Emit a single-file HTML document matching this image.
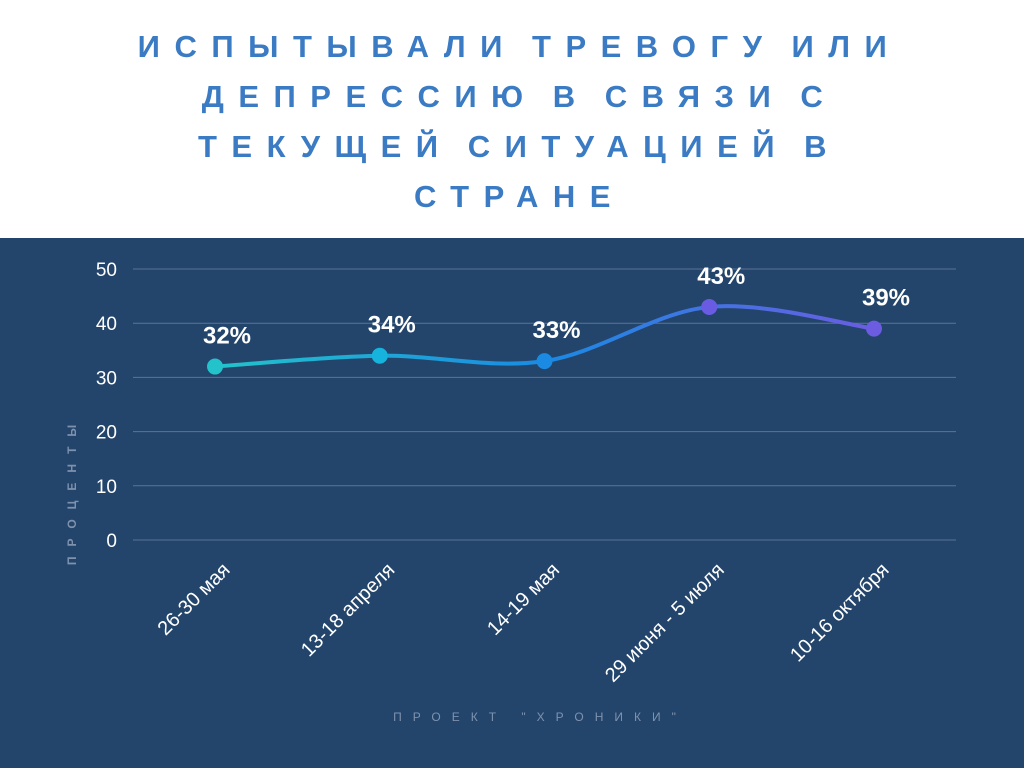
<!DOCTYPE html>
<html><head><meta charset="utf-8"><style>
body{margin:0;width:1024px;height:768px;overflow:hidden;background:#fff;font-family:"Liberation Sans",sans-serif}
#top{position:absolute;left:0;top:0;width:1024px;height:238px;background:#fff}
.tl{position:absolute;left:0;width:1024px;box-sizing:border-box;padding-left:15px;text-align:center;font-weight:bold;font-size:31px;color:#3a7bc4;letter-spacing:14.5px;word-spacing:-8px;line-height:36px}
#panel{position:absolute;left:0;top:238px;width:1024px;height:530px;background:#23456b}
</style></head><body>
<div id="top">
<div class="tl" style="top:29px">ИСПЫТЫВАЛИ ТРЕВОГУ ИЛИ</div>
<div class="tl" style="top:79px">ДЕПРЕССИЮ В СВЯЗИ С</div>
<div class="tl" style="top:129px">ТЕКУЩЕЙ СИТУАЦИЕЙ В</div>
<div class="tl" style="top:179px">СТРАНЕ</div>
</div>
<div id="panel"></div>
<svg id="chart" width="1024" height="768" style="position:absolute;left:0;top:0">
<defs><linearGradient id="lg" x1="215" x2="874" y1="0" y2="0" gradientUnits="userSpaceOnUse">
<stop offset="0" stop-color="#22c3cb"/><stop offset="0.5" stop-color="#1a8ae3"/><stop offset="1" stop-color="#6b5ce2"/></linearGradient></defs>
</svg>
<script>
const categories=["26-30 мая","13-18 апреля","14-19 мая","29 июня - 5 июля","10-16 октября"];
const values=[32,34,33,43,39];
const yTicks=[0,10,20,30,40,50];
const pointColors=["#22c3cb","#16b4dc","#1a8ae3","#6a5ce2","#6b5ce2"];
const svg=document.getElementById('chart');const NS='http://www.w3.org/2000/svg';
const x0=215,dx=164.75,yb=540,yt=269;
const X=i=>x0+i*dx, Y=v=>yb-(v-0)/(50-0)*(yb-yt);
function mk(t,a,txt){const e=document.createElementNS(NS,t);for(const k in a)e.setAttribute(k,a[k]);if(txt!=null)e.textContent=txt;svg.appendChild(e);return e;}
yTicks.forEach(v=>{
 const g=mk('line',{x1:133,x2:956,y1:Y(v),y2:Y(v),stroke:'#5b7496','stroke-width':1});
 
 
 const t=mk('text',{x:117,y:Y(v)+7,'text-anchor':'end',fill:'#fff','font-size':19,'font-family':'Liberation Sans'},v);
 
 
});
const at=mk('text',{x:0,y:0,transform:'translate(76,490) rotate(-90)','text-anchor':'middle',fill:'#7f92ad','font-size':12,'font-weight':'bold','letter-spacing':10,'font-family':'Liberation Sans'},'ПРОЦЕНТЫ');


const P=values.map((v,i)=>[X(i),Y(v)]);
let d='M'+P[0][0]+','+P[0][1];
for(let i=0;i<P.length-1;i++){const p0=P[Math.max(i-1,0)],p1=P[i],p2=P[i+1],p3=P[Math.min(i+2,P.length-1)];
 d+=` C${p1[0]+(p2[0]-p0[0])/6},${p1[1]+(p2[1]-p0[1])/6} ${p2[0]-(p3[0]-p1[0])/6},${p2[1]-(p3[1]-p1[1])/6} ${p2[0]},${p2[1]}`;}
const ln=mk('path',{d:d,fill:'none',stroke:'url(#lg)','stroke-width':4});


values.forEach((v,i)=>{
 const c=mk('circle',{cx:X(i),cy:Y(v),r:8,fill:pointColors[i]});
 
 
 const l=mk('text',{x:X(i)+12,y:Y(v)-23,'text-anchor':'middle',fill:'#fff','font-size':24,'font-weight':'bold','font-family':'Liberation Sans'},v+'%');
 
 
 const xl=mk('text',{x:0,y:0,transform:`translate(${X(i)+16},571) rotate(-45)`,'text-anchor':'end',fill:'#fff','font-size':20,'font-family':'Liberation Sans'},categories[i]);
 
 
});
const ft=mk('text',{x:540,y:721,'text-anchor':'middle',fill:'#7f92ad','font-size':12,'letter-spacing':11,'font-family':'Liberation Sans'},'ПРОЕКТ "ХРОНИКИ"');


</script>
</body></html>
